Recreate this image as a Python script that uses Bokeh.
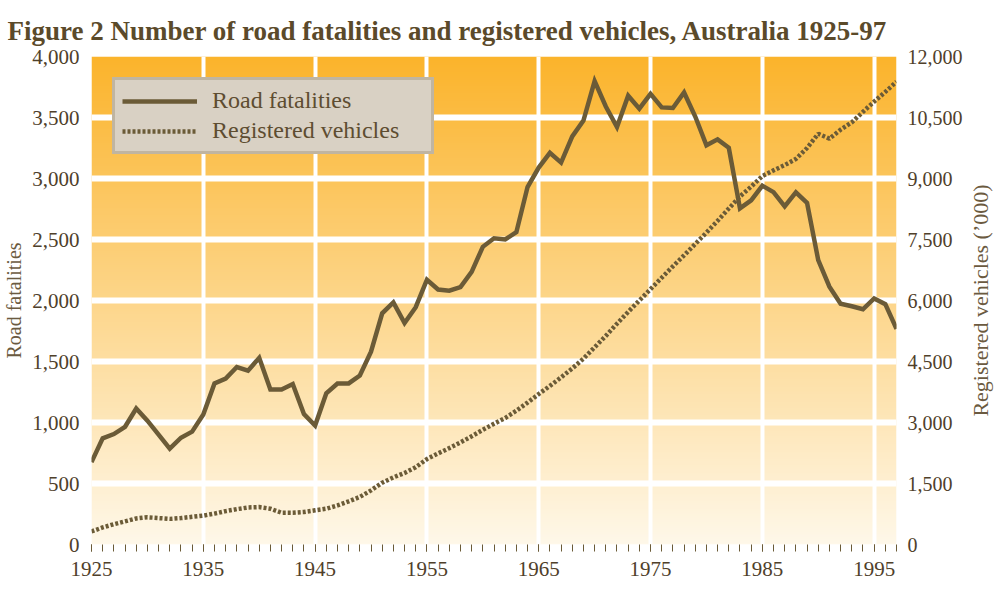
import numpy as np
from bokeh.plotting import figure
from bokeh.layouts import row
from bokeh.models import (Range1d, LinearAxis, FixedTicker, NumeralTickFormatter,
                          Legend, LegendItem, Title)
from bokeh.embed import file_html
from bokeh.resources import INLINE

# ---------------- data ----------------
years = list(range(1925, 1998))

road_fatalities = [
    675, 870, 905, 965, 1115, 1015, 900, 785, 875, 925,          # 1925-34
    1065, 1320, 1360, 1455, 1425, 1530, 1270, 1270, 1315, 1070,  # 1935-44
    975, 1240, 1320, 1320, 1385, 1580, 1895, 1985, 1815, 1945,   # 1945-54
    2170, 2090, 2080, 2110, 2235, 2440, 2510, 2500, 2560, 2930,  # 1955-64
    3090, 3210, 3130, 3345, 3475, 3798, 3590, 3422, 3679, 3572,  # 1965-74
    3694, 3583, 3578, 3705, 3508, 3272, 3321, 3252, 2755, 2821,  # 1975-84
    2941, 2888, 2772, 2887, 2801, 2331, 2113, 1974, 1953, 1928,  # 1985-94
    2017, 1970, 1767,                                            # 1995-97
]

registered_vehicles = [
    320, 420, 500, 570, 640, 670, 650, 630, 650, 680,            # 1925-34
    710, 760, 820, 870, 910, 920, 880, 780, 780, 800,            # 1935-44
    840, 880, 960, 1060, 1170, 1330, 1520, 1650, 1760, 1900,     # 1945-54
    2100, 2240, 2370, 2510, 2660, 2820, 2970, 3110, 3290, 3490,  # 1955-64
    3700, 3900, 4110, 4330, 4570, 4850, 5130, 5430, 5720, 6000,  # 1965-74
    6280, 6560, 6840, 7110, 7390, 7670, 7960, 8260, 8560, 8800,  # 1975-84
    9060, 9200, 9330, 9480, 9750, 10100, 9980, 10200, 10380, 10640,  # 1985-94
    10890, 11130, 11380,                                         # 1995-97
]

x_tick_labels = [1925, 1935, 1945, 1955, 1965, 1975, 1985, 1995]
left_ticks = list(range(0, 4001, 500))
right_ticks = list(range(0, 12001, 1500))

# ---------------- styling ----------------
LINE = "#6b5b37"
TXT = "#4f402a"
AXLBL = "#6b5a40"
FONT = "Liberation Serif"

p = figure(width=965, height=587,
           x_range=Range1d(1925, 1997), y_range=Range1d(0, 4000),
           output_backend="svg", toolbar_location=None,
           min_border_left=83, min_border_right=64,
           min_border_top=56, min_border_bottom=43)
p.outline_line_color = None
p.background_fill_color = "white"
p.border_fill_color = "white"

# title
p.title.text = "Figure 2  Number of road fatalities and registered vehicles, Australia 1925-97"
p.title.text_font = FONT
p.title.text_font_style = "bold"
p.title.text_font_size = "27px"
p.title.text_color = "#5b4a2a"
p.title.align = "left"
p.title.offset = -84
p.title.standoff = 22

# background gradient (bottom pale cream -> top orange)
n = 256
t = np.linspace(0, 1, n)
bottom = np.array([255, 248, 233])
top = np.array([251, 180, 44])
rgb = (bottom[None, :] * (1 - t[:, None]) + top[None, :] * t[:, None]).astype(np.uint32)
img = np.empty((n, 1), dtype=np.uint32)
view = img.view(dtype=np.uint8).reshape((n, 1, 4))
view[:, 0, 0] = rgb[:, 0]
view[:, 0, 1] = rgb[:, 1]
view[:, 0, 2] = rgb[:, 2]
view[:, 0, 3] = 255
bg = p.image_rgba(image=[img], x=1925, y=0, dw=72, dh=4000)
bg.level = "image"

# grid
p.xgrid.ticker = FixedTicker(ticks=x_tick_labels[1:])
p.ygrid.ticker = FixedTicker(ticks=left_ticks[1:-1])
p.xgrid.grid_line_color = "white"
p.xgrid.grid_line_width = 4
p.ygrid.grid_line_color = "white"
p.ygrid.grid_line_width = 6
p.xgrid.grid_line_alpha = 1
p.ygrid.grid_line_alpha = 1

# lines
p.extra_y_ranges = {"veh": Range1d(0, 12000)}
r1 = p.line(years, road_fatalities, line_color=LINE, line_width=4.5, line_join="miter")
r2 = p.line(years, registered_vehicles, y_range_name="veh", line_color=LINE,
            line_width=4.5, line_dash="3 2")

# x axis
xa = p.xaxis[0]
xa.ticker = FixedTicker(ticks=x_tick_labels, minor_ticks=years)
xa.axis_line_color = None
xa.major_tick_in = 0
xa.major_tick_out = 7
xa.minor_tick_in = 0
xa.minor_tick_out = 7
xa.major_tick_line_color = LINE
xa.minor_tick_line_color = LINE
xa.major_label_standoff = 10
xa.major_label_text_font = FONT
xa.major_label_text_font_size = "21px"
xa.major_label_text_color = TXT

# left axis
ya = p.yaxis[0]
ya.ticker = FixedTicker(ticks=left_ticks)
ya.formatter = NumeralTickFormatter(format="0,0")
ya.axis_line_color = None
ya.major_tick_line_color = None
ya.minor_tick_line_color = None
ya.major_label_standoff = 6
ya.major_label_text_font = FONT
ya.major_label_text_font_size = "21px"
ya.major_label_text_color = TXT
ya.axis_label = "Road fatalities"
ya.axis_label_text_font = FONT
ya.axis_label_text_font_style = "normal"
ya.axis_label_text_font_size = "20px"
ya.axis_label_text_color = AXLBL
ya.axis_label_standoff = 4

# right axis (ticks only; its title is drawn in a narrow side panel)
ra = LinearAxis(y_range_name="veh", ticker=FixedTicker(ticks=right_ticks),
                formatter=NumeralTickFormatter(format="0,0"))
ra.axis_line_color = None
ra.major_tick_line_color = None
ra.minor_tick_line_color = None
ra.major_label_standoff = 5
ra.major_label_text_font = FONT
ra.major_label_text_font_size = "20px"
ra.major_label_text_color = TXT
p.add_layout(ra, "right")

# legend
legend = Legend(items=[LegendItem(label="Road fatalities", renderers=[r1]),
                       LegendItem(label="Registered vehicles", renderers=[r2])],
                location=(21, 390))
legend.background_fill_color = "#d9d1c4"
legend.background_fill_alpha = 1
legend.border_line_color = "#a8997d"
legend.border_line_width = 3
legend.label_text_font = FONT
legend.label_text_font_size = "24px"
legend.label_text_color = "#5e4d31"
legend.glyph_width = 75
legend.glyph_height = 24
legend.label_width = 212
legend.label_standoff = 15
legend.spacing = 3
legend.padding = 7
legend.margin = 0
p.add_layout(legend, "center")

# narrow side panel carrying the right-hand axis title (reads bottom-to-top)
q = figure(width=32, height=587, output_backend="svg", toolbar_location=None,
           x_axis_location=None, y_axis_location=None,
           min_border_left=0, min_border_right=0,
           min_border_top=56, min_border_bottom=43)
q.outline_line_color = None
q.background_fill_color = "white"
q.border_fill_color = "white"
q.xgrid.visible = False
q.ygrid.visible = False
q.add_layout(Title(text="Registered vehicles (\u2019000)", align="center",
                   text_font=FONT, text_font_size="22px", text_font_style="normal",
                   text_color=AXLBL, standoff=0), "left")

layout = row(p, q, spacing=0)
open("out.html", "w").write(file_html(layout, INLINE))
